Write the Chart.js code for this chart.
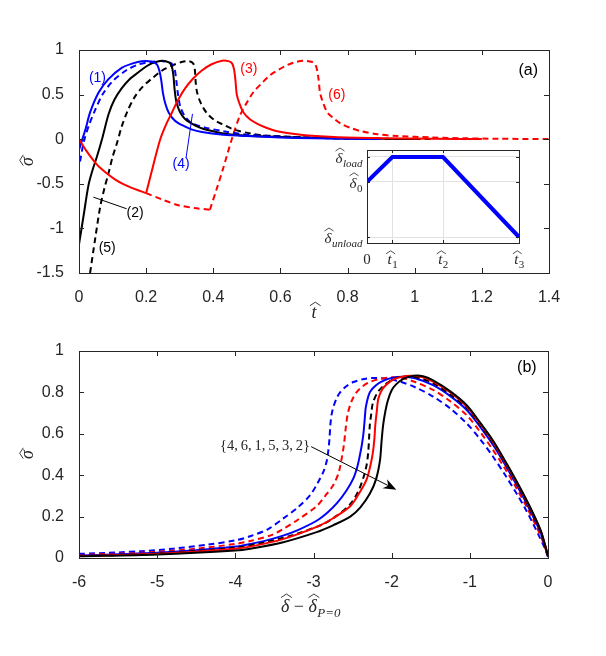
<!DOCTYPE html>
<html>
<head>
<meta charset="utf-8">
<script src="https://cdn.jsdelivr.net/npm/chart.js@4.4.1/dist/chart.umd.min.js"></script>
<style>
body { margin: 0; background: #fff; }
#wrap { position: relative; width: 606px; height: 656px; }
canvas { position: absolute; }
</style>
</head>
<body>
<div id="wrap">
  <canvas id="topChart" width="606" height="325" style="left:0;top:0"></canvas>
  <canvas id="bottomChart" width="606" height="331" style="left:0;top:325px"></canvas>
  <canvas id="insetChart" width="240" height="135" style="left:290px;top:140px"></canvas>
</div>
<script>
// ---- panel (a): sigma vs t, [t, sigma] pairs
var curve1a = [[0,-0.12],[0.01,0.0],[0.02,0.12],[0.033,0.3],[0.058,0.52],[0.087,0.67],[0.127,0.8],[0.16,0.85],[0.187,0.875],[0.215,0.872],[0.232,0.84],[0.24,0.76],[0.245,0.66],[0.25,0.52],[0.257,0.4],[0.267,0.3],[0.285,0.21],[0.306,0.16],[0.335,0.11],[0.366,0.08],[0.43,0.05],[0.5,0.035],[0.6,0.02],[0.7,0.01],[0.8,0.005],[0.9,0.002]];
var curve4a = [[0.003,-0.25],[0.015,-0.02],[0.03,0.16],[0.045,0.3],[0.07,0.5],[0.1,0.65],[0.14,0.77],[0.175,0.835],[0.212,0.865],[0.25,0.875],[0.275,0.85],[0.285,0.78],[0.29,0.65],[0.295,0.5],[0.302,0.36],[0.315,0.26],[0.336,0.18],[0.376,0.13],[0.43,0.09],[0.5,0.05],[0.6,0.03],[0.7,0.015],[0.8,0.008],[0.9,0.003]];
var curve2a = [[0,-1.18],[0.014,-0.85],[0.028,-0.52],[0.04,-0.35],[0.053,-0.2],[0.07,0.02],[0.088,0.28],[0.105,0.44],[0.127,0.57],[0.15,0.67],[0.177,0.75],[0.2,0.815],[0.217,0.85],[0.247,0.88],[0.268,0.86],[0.276,0.82],[0.281,0.72],[0.285,0.55],[0.29,0.42],[0.3,0.31],[0.315,0.23],[0.336,0.175],[0.36,0.13],[0.386,0.1],[0.43,0.065],[0.5,0.04],[0.6,0.025],[0.7,0.015],[0.8,0.008],[0.9,0.004],[1.0,0.002]];
var curve5a = [[0.033,-1.5],[0.048,-1.12],[0.063,-0.76],[0.075,-0.56],[0.088,-0.38],[0.1,-0.2],[0.115,-0.02],[0.127,0.14],[0.145,0.32],[0.167,0.48],[0.19,0.59],[0.217,0.68],[0.24,0.75],[0.257,0.79],[0.28,0.83],[0.306,0.865],[0.326,0.875],[0.34,0.85],[0.345,0.78],[0.348,0.62],[0.352,0.52],[0.361,0.42],[0.372,0.34],[0.386,0.27],[0.405,0.21],[0.426,0.17],[0.46,0.11],[0.51,0.065],[0.56,0.04],[0.65,0.025],[0.75,0.013],[0.85,0.006],[0.95,0.003],[1.05,0.001]];
var curve3aLoad = [[0,0],[0.02,-0.12],[0.05,-0.27],[0.075,-0.36],[0.107,-0.45],[0.135,-0.51],[0.167,-0.56],[0.2,-0.605]];
var curve3aRise = [[0.2,-0.605],[0.222,-0.28],[0.242,0],[0.26,0.17],[0.277,0.3],[0.295,0.44],[0.316,0.57],[0.34,0.68],[0.366,0.77],[0.395,0.84],[0.426,0.88],[0.445,0.875],[0.456,0.85],[0.462,0.78],[0.466,0.66],[0.47,0.5],[0.478,0.4],[0.49,0.3],[0.51,0.22],[0.53,0.175],[0.56,0.125],[0.59,0.09],[0.66,0.05],[0.76,0.025],[0.9,0.012],[1.05,0.005],[1.2,0.002]];
var curve6aLoad = [[0.2,-0.605],[0.25,-0.68],[0.296,-0.74],[0.35,-0.775],[0.39,-0.79]];
var curve6aRise = [[0.39,-0.79],[0.41,-0.56],[0.43,-0.32],[0.456,0.01],[0.48,0.27],[0.5,0.41],[0.52,0.53],[0.545,0.63],[0.57,0.72],[0.595,0.78],[0.62,0.83],[0.645,0.865],[0.67,0.88],[0.695,0.865],[0.705,0.83],[0.71,0.76],[0.714,0.66],[0.718,0.52],[0.726,0.42],[0.74,0.3],[0.76,0.23],[0.78,0.175],[0.81,0.125],[0.84,0.09],[0.89,0.055],[0.95,0.035],[1.05,0.02],[1.15,0.01],[1.25,0.005],[1.4,0.002]];
var xTicksA = [0, 0.2, 0.4, 0.6, 0.8, 1, 1.2, 1.4];
var yTicksA = [-1.5, -1, -0.5, 0, 0.5, 1];

// ---- inset: prescribed displacement history
var insetT = [0, 1, 3, 6];
var insetDelta = [0.69, 1, 1, 0];
var insetXTicks = [0, 1, 3, 6];
var insetXLabels = [['0', ''], ['t', '1'], ['t', '2'], ['t', '3']];
var insetYTicks = [0, 0.69, 1];
var insetYLabels = [['\u03B4', 'unload'], ['\u03B4', '0'], ['\u03B4', 'load']];

// ---- panel (b): sigma vs delta - delta_P=0
var curve4b = [[-6,0.02],[-5.5,0.027],[-5.2,0.033],[-4.8,0.045],[-4.35,0.065],[-4,0.085],[-3.81,0.105],[-3.58,0.14],[-3.39,0.19],[-3.2,0.245],[-3.04,0.305],[-2.95,0.36],[-2.87,0.42],[-2.83,0.47],[-2.81,0.52],[-2.795,0.58],[-2.785,0.64],[-2.77,0.69],[-2.745,0.73],[-2.7,0.775],[-2.66,0.8],[-2.58,0.83],[-2.49,0.85],[-2.35,0.865],[-2.2,0.87],[-2.05,0.865],[-1.89,0.852],[-1.7,0.825],[-1.47,0.78],[-1.25,0.722],[-1.04,0.65],[-0.87,0.575],[-0.7,0.488],[-0.55,0.402],[-0.4,0.31],[-0.3,0.245],[-0.19,0.165],[-0.1,0.095],[-0.05,0.055],[0,0.005]];
var curve6b = [[-6,0.015],[-5.5,0.021],[-5,0.03],[-4.5,0.045],[-4,0.068],[-3.81,0.082],[-3.53,0.112],[-3.39,0.14],[-3.2,0.185],[-2.96,0.25],[-2.85,0.3],[-2.75,0.35],[-2.68,0.41],[-2.64,0.48],[-2.61,0.55],[-2.59,0.62],[-2.56,0.7],[-2.51,0.76],[-2.45,0.8],[-2.37,0.83],[-2.28,0.85],[-2.15,0.865],[-2.0,0.873],[-1.85,0.868],[-1.7,0.85],[-1.47,0.812],[-1.25,0.757],[-1.04,0.69],[-0.87,0.61],[-0.7,0.52],[-0.55,0.432],[-0.4,0.335],[-0.27,0.245],[-0.14,0.145],[-0.06,0.075],[0,0.008]];
var curve1b = [[-6,0.012],[-5.5,0.018],[-5,0.025],[-4.5,0.037],[-4,0.055],[-3.81,0.068],[-3.6,0.085],[-3.39,0.108],[-3.2,0.135],[-2.96,0.18],[-2.82,0.22],[-2.7,0.265],[-2.58,0.325],[-2.49,0.385],[-2.44,0.44],[-2.41,0.49],[-2.38,0.55],[-2.36,0.605],[-2.345,0.67],[-2.33,0.73],[-2.28,0.8],[-2.2,0.835],[-2.11,0.856],[-2.0,0.87],[-1.85,0.876],[-1.7,0.868],[-1.47,0.835],[-1.25,0.782],[-1.04,0.715],[-0.87,0.635],[-0.7,0.545],[-0.55,0.452],[-0.4,0.352],[-0.25,0.245],[-0.1,0.128],[-0.05,0.072],[0,0.01]];
var curve5b = [[-6,0.01],[-5,0.022],[-4,0.05],[-3.6,0.078],[-3.2,0.118],[-2.87,0.165],[-2.7,0.205],[-2.53,0.26],[-2.43,0.32],[-2.36,0.39],[-2.32,0.45],[-2.3,0.51],[-2.29,0.57],[-2.28,0.64],[-2.26,0.7],[-2.24,0.75],[-2.18,0.8],[-2.11,0.83],[-2.02,0.855],[-1.94,0.87],[-1.8,0.878],[-1.65,0.87],[-1.47,0.845],[-1.25,0.79],[-1.04,0.725],[-0.87,0.643],[-0.7,0.553],[-0.55,0.46],[-0.4,0.36],[-0.25,0.252],[-0.1,0.132],[-0.05,0.075],[0,0.01]];
var curve3b = [[-6,0.01],[-5,0.02],[-4,0.045],[-3.81,0.055],[-3.4,0.09],[-2.96,0.15],[-2.75,0.192],[-2.53,0.25],[-2.42,0.31],[-2.32,0.38],[-2.27,0.45],[-2.24,0.51],[-2.22,0.58],[-2.21,0.64],[-2.19,0.71],[-2.17,0.77],[-2.12,0.815],[-2.06,0.84],[-1.96,0.865],[-1.85,0.877],[-1.75,0.88],[-1.6,0.873],[-1.47,0.852],[-1.25,0.8],[-1.04,0.732],[-0.87,0.65],[-0.7,0.56],[-0.55,0.465],[-0.4,0.365],[-0.25,0.258],[-0.1,0.138],[-0.05,0.08],[0,0.01]];
var curve2b = [[-6,0.008],[-5,0.017],[-4,0.036],[-3.81,0.045],[-3.4,0.075],[-2.96,0.125],[-2.75,0.158],[-2.53,0.2],[-2.4,0.245],[-2.28,0.31],[-2.2,0.38],[-2.15,0.47],[-2.13,0.56],[-2.11,0.64],[-2.08,0.71],[-2.05,0.76],[-2.0,0.81],[-1.94,0.84],[-1.85,0.865],[-1.72,0.88],[-1.6,0.878],[-1.47,0.858],[-1.25,0.805],[-1.04,0.738],[-0.87,0.655],[-0.7,0.565],[-0.55,0.47],[-0.4,0.37],[-0.25,0.262],[-0.1,0.14],[-0.05,0.08],[0,0.01]];
var xTicksB = [-6, -5, -4, -3, -2, -1, 0];
var yTicksB = [0, 0.2, 0.4, 0.6, 0.8, 1];

var BLUE = '#0000ff', RED = '#ff0000', BLACK = '#000000', AX = '#262626';
var SANS = '"Liberation Sans", Arial, sans-serif';
var SERIF = '"Liberation Serif", "DejaVu Serif", serif';
// height of the letter above its baseline, used to place the wide hat
var GLYPH_H = {'\u03B4': 0.72, 't': 0.6, '\u03C3': 0.46};

function pts(arr) {
    return arr.map(function (p) { return {x: p[0], y: p[1]}; });
}

function line(arr, color, dashed, width) {
    return {
        data: pts(arr),
        borderColor: color,
        borderWidth: width || 2,
        borderDash: dashed ? [6, 4] : [],
        pointRadius: 0,
        fill: false,
        tension: 0.3
    };
}

function hatAbove(ctx, x0, w, topY, size) {
    var hw = Math.max(w * 0.6, size * 0.3);
    var cx = x0 + w / 2 + size * 0.07;
    ctx.save();
    ctx.lineWidth = Math.max(0.8, size * 0.05);
    ctx.strokeStyle = ctx.fillStyle;
    ctx.beginPath();
    ctx.moveTo(cx - hw, topY);
    ctx.lineTo(cx, topY - size * 0.2);
    ctx.lineTo(cx + hw, topY);
    ctx.stroke();
    ctx.restore();
}

// parts: {t: text, hat, sub, up}
function drawParts(ctx, x, y, parts, size, align) {
    var ss = Math.round(size * 0.7);
    function fontOf(p) { return (p.up ? '' : 'italic ') + (p.sub ? ss : size) + 'px ' + SERIF; }
    var widths = parts.map(function (p) { ctx.font = fontOf(p); return ctx.measureText(p.t).width; });
    var total = widths.reduce(function (s, w) { return s + w; }, 0);
    var cx = x;
    if (align === 'right') cx = x - total;
    if (align === 'center') cx = x - total / 2;
    ctx.textAlign = 'left';
    ctx.textBaseline = 'alphabetic';
    parts.forEach(function (p, i) {
        ctx.font = fontOf(p);
        ctx.fillText(p.t, cx + (p.sub ? 0.5 : 0), p.sub ? y + size * 0.25 : y);
        if (p.hat) hatAbove(ctx, cx, widths[i], y - (GLYPH_H[p.t] || 0.7) * size - size * 0.08, size);
        cx += widths[i];
    });
}

function labelParts(lab) {
    if (!lab[1]) return [{t: lab[0], up: true}];
    return [{t: lab[0], hat: true}, {t: lab[1], sub: true, up: /^[0-9]+$/.test(lab[1])}];
}

// matlab style box with inward ticks on all four sides, plus text notes
function frame(cfg) {
    return {
        id: 'frame',
        beforeDraw: function (chart) {
            if (!cfg.fill) return;
            var a = chart.chartArea, ctx = chart.ctx;
            ctx.save();
            ctx.fillStyle = '#fff';
            ctx.fillRect(a.left, a.top, a.right - a.left, a.bottom - a.top);
            ctx.restore();
        },
        afterDatasetsDraw: function (chart) {
            var ctx = chart.ctx, a = chart.chartArea;
            var sx = chart.scales.x, sy = chart.scales.y;
            var tl = cfg.tick;
            ctx.save();
            ctx.strokeStyle = AX;
            ctx.lineWidth = 1;
            ctx.beginPath();
            sx.ticks.forEach(function (t) {
                var px = Math.round(sx.getPixelForValue(t.value)) + 0.5;
                ctx.moveTo(px, a.bottom); ctx.lineTo(px, a.bottom - tl);
                ctx.moveTo(px, a.top); ctx.lineTo(px, a.top + tl);
            });
            sy.ticks.forEach(function (t) {
                var py = Math.round(sy.getPixelForValue(t.value)) + 0.5;
                ctx.moveTo(a.left, py); ctx.lineTo(a.left + tl, py);
                ctx.moveTo(a.right, py); ctx.lineTo(a.right - tl, py);
            });
            ctx.stroke();
            ctx.strokeRect(Math.round(a.left) + 0.5, Math.round(a.top) + 0.5,
                Math.round(a.right - a.left), Math.round(a.bottom - a.top));

            (cfg.leaders || []).forEach(function (l) {
                ctx.strokeStyle = l.color;
                ctx.beginPath();
                ctx.moveTo(sx.getPixelForValue(l.x1), sy.getPixelForValue(l.y1));
                ctx.lineTo(sx.getPixelForValue(l.x2), sy.getPixelForValue(l.y2));
                ctx.stroke();
            });
            (cfg.labels || []).forEach(function (l) {
                ctx.fillStyle = l.color;
                ctx.font = (l.size || 14) + 'px ' + (l.font || SANS);
                ctx.textAlign = l.align || 'center';
                ctx.textBaseline = 'middle';
                ctx.fillText(l.text, sx.getPixelForValue(l.x), sy.getPixelForValue(l.y));
            });
            (cfg.arrows || []).forEach(function (r) {
                var x1 = sx.getPixelForValue(r.x1), y1 = sy.getPixelForValue(r.y1);
                var x2 = sx.getPixelForValue(r.x2), y2 = sy.getPixelForValue(r.y2);
                var c = Math.cos(Math.atan2(y2 - y1, x2 - x1)), s = Math.sin(Math.atan2(y2 - y1, x2 - x1));
                ctx.strokeStyle = BLACK;
                ctx.fillStyle = BLACK;
                ctx.beginPath();
                ctx.moveTo(x1, y1);
                ctx.lineTo(x2 - 8 * c, y2 - 8 * s);
                ctx.stroke();
                ctx.beginPath();
                ctx.moveTo(x2, y2);
                ctx.lineTo(x2 - 13 * c + 5 * s, y2 - 13 * s - 5 * c);
                ctx.lineTo(x2 - 9 * c, y2 - 9 * s);
                ctx.lineTo(x2 - 13 * c - 5 * s, y2 - 13 * s + 5 * c);
                ctx.closePath();
                ctx.fill();
            });
            ctx.fillStyle = AX;
            if (cfg.yTitle) {
                ctx.save();
                ctx.translate(33, (a.top + a.bottom) / 2);
                ctx.rotate(-Math.PI / 2);
                drawParts(ctx, 0, 0, [{t: cfg.yTitle, hat: true}], 18, 'center');
                ctx.restore();
            }
            if (cfg.xTitle) {
                drawParts(ctx, (a.left + a.right) / 2 + (cfg.xTitleShift || 0), a.bottom + cfg.xTitleY, cfg.xTitle, cfg.xTitleSize, 'center');
            }
            if (cfg.after) cfg.after(chart, ctx);
            ctx.restore();
        }
    };
}

function tickAxis(min, max, list, fit) {
    return {
        type: 'linear',
        min: min,
        max: max,
        afterBuildTicks: function (s) { s.ticks = list.map(function (v) { return {value: v}; }); },
        afterFit: fit,
        grid: {display: false},
        border: {display: false},
        ticks: {
            color: AX,
            font: {family: SANS, size: 16},
            padding: 7,
            maxRotation: 0,
            autoSkip: false,
            callback: function (v) { return String(v); }
        }
    };
}

var common = {
    responsive: false,
    animation: false,
    devicePixelRatio: 1,
    plugins: {legend: {display: false}, tooltip: {enabled: false}}
};

// ---------- panel (a)
new Chart(document.getElementById('topChart'), {
    type: 'line',
    data: {
        datasets: [
            line(curve3aLoad, RED, false),
            line(curve3aRise, RED, false),
            line(curve1a, BLUE, false),
            line(curve2a, BLACK, false),
            line(curve4a, BLUE, true),
            line(curve5a, BLACK, true),
            line(curve6aLoad, RED, true),
            line(curve6aRise, RED, true)
        ]
    },
    options: Object.assign({}, common, {
        layout: {padding: {left: 0, top: 50, right: 57, bottom: 0}},
        scales: {
            x: tickAxis(0, 1.4, xTicksA, function (s) { s.height = 52; }),
            y: tickAxis(-1.5, 1, yTicksA, function (s) { s.width = 79; })
        }
    }),
    plugins: [frame({
        tick: 5,
        yTitle: '\u03C3',
        xTitle: [{t: 't', hat: true}],
        xTitleY: 45,
        xTitleSize: 18,
        labels: [
            {text: '(1)', x: 0.055, y: 0.68, color: BLUE},
            {text: '(4)', x: 0.304, y: -0.285, color: BLUE},
            {text: '(2)', x: 0.167, y: -0.83, color: BLACK},
            {text: '(5)', x: 0.084, y: -1.22, color: BLACK},
            {text: '(3)', x: 0.506, y: 0.78, color: RED},
            {text: '(6)', x: 0.768, y: 0.49, color: RED},
            {text: '(a)', x: 1.338, y: 0.77, color: BLACK, size: 16}
        ],
        leaders: [
            {x1: 0.319, y1: -0.206, x2: 0.338, y2: 0.284, color: BLUE},
            {x1: 0.043, y1: -0.65, x2: 0.142, y2: -0.78, color: BLACK}
        ]
    })]
});

// ---------- inset
new Chart(document.getElementById('insetChart'), {
    type: 'line',
    data: {
        datasets: [{
            data: insetT.map(function (t, i) { return {x: t, y: insetDelta[i]}; }),
            borderColor: BLUE,
            borderWidth: 4,
            pointRadius: 0,
            tension: 0,
            fill: false
        }]
    },
    options: Object.assign({}, common, {
        layout: {padding: {left: 0, top: 10, right: 11, bottom: 0}},
        scales: {
            x: {
                type: 'linear', min: 0, max: 6,
                afterBuildTicks: function (s) { s.ticks = insetXTicks.map(function (v) { return {value: v}; }); },
                afterFit: function (s) { s.height = 32; },
                grid: {color: '#e2e2e2', drawTicks: false},
                border: {display: false},
                ticks: {display: false}
            },
            y: {
                type: 'linear', min: -0.075, max: 1.0875,
                afterBuildTicks: function (s) { s.ticks = insetYTicks.map(function (v) { return {value: v}; }); },
                afterFit: function (s) { s.width = 77; },
                grid: {color: '#e2e2e2', drawTicks: false},
                border: {display: false},
                ticks: {display: false}
            }
        }
    }),
    plugins: [frame({
        tick: 3,
        fill: true,
        after: function (chart, ctx) {
            var sx = chart.scales.x, sy = chart.scales.y, a = chart.chartArea;
            insetXTicks.forEach(function (v, i) {
                drawParts(ctx, sx.getPixelForValue(v), a.bottom + 21, labelParts(insetXLabels[i]), 15, 'center');
            });
            insetYTicks.forEach(function (v, i) {
                drawParts(ctx, a.left - 5, sy.getPixelForValue(v) + 6, labelParts(insetYLabels[i]), 15, 'right');
            });
        }
    })]
});

// ---------- panel (b)
new Chart(document.getElementById('bottomChart'), {
    type: 'line',
    data: {
        datasets: [
            line(curve2b, BLACK, false),
            line(curve3b, RED, false),
            line(curve5b, BLACK, true),
            line(curve1b, BLUE, false),
            line(curve6b, RED, true),
            line(curve4b, BLUE, true)
        ]
    },
    options: Object.assign({}, common, {
        layout: {padding: {left: 0, top: 26, right: 58, bottom: 0}},
        scales: {
            x: tickAxis(-6, 0, xTicksB, function (s) { s.height = 98; }),
            y: tickAxis(0, 1, yTicksB, function (s) { s.width = 79; })
        }
    }),
    plugins: [frame({
        tick: 5,
        yTitle: '\u03C3',
        xTitle: [{t: '\u03B4', hat: true}, {t: ' \u2212 ', up: true}, {t: '\u03B4', hat: true}, {t: 'P=0', sub: true}],
        xTitleY: 54,
        xTitleSize: 18,
        xTitleShift: -3,
        labels: [
            {text: '(b)', x: -0.27, y: 0.918, color: BLACK, size: 16},
            {text: '{4,\u20096,\u20091,\u20095,\u20093,\u20092}', x: -3.045, y: 0.54, color: AX, size: 14.5, font: SERIF, align: 'right'}
        ],
        arrows: [{x1: -3.03, y1: 0.538, x2: -1.94, y2: 0.33}]
    })]
});
</script>
</body>
</html>
